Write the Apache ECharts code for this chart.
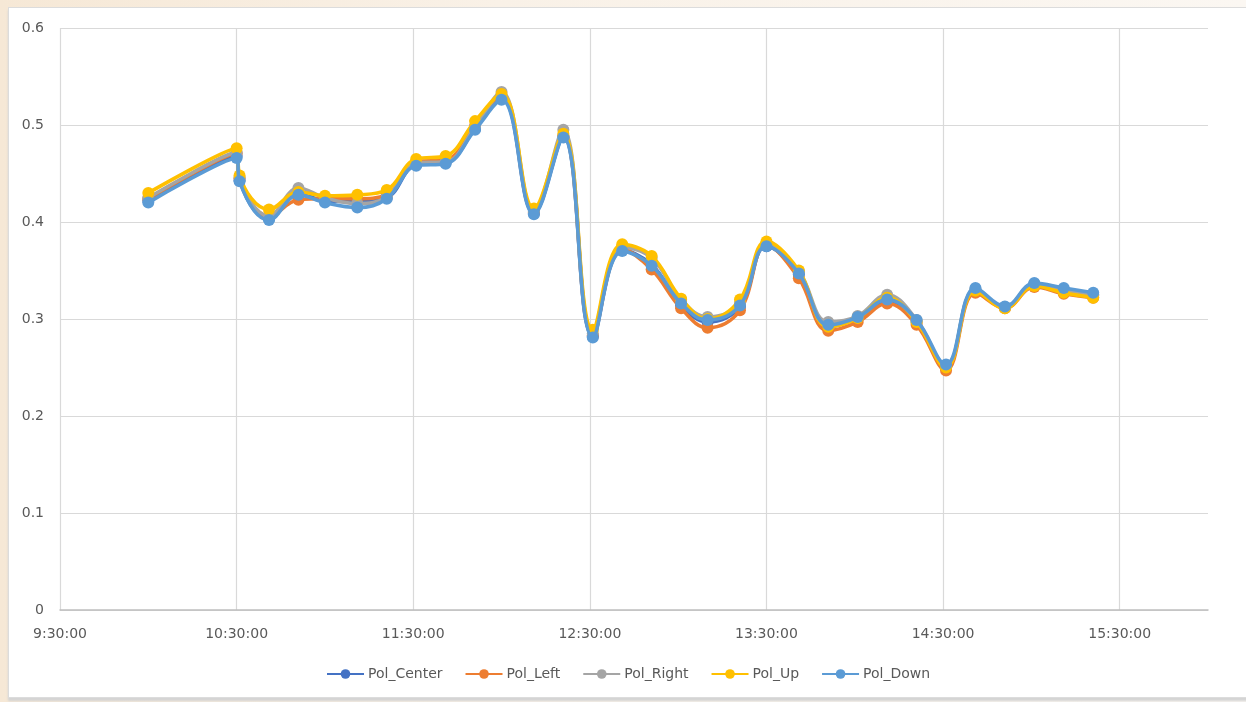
<!DOCTYPE html>
<html>
<head>
<meta charset="utf-8">
<title>Pol readings</title>
<script src="https://cdn.jsdelivr.net/npm/echarts@6/dist/echarts.min.js"></script>
<style>
  html, body { margin: 0; padding: 0; }
  body {
    width: 1246px; height: 702px; overflow: hidden; position: relative;
    background: linear-gradient(90deg, #f6e8d6 0%, #f9f1e7 40%, #fbf7f2 100%);
  }
  #panel {
    position: absolute; left: 8px; top: 7px; width: 1250px; height: 689px;
    background: #ffffff; border: 1px solid #dcdcdc;
    box-shadow: 0 3px 2px #d4d4d4;
  }
  #chart { position: absolute; left: 0; top: 0; width: 1246px; height: 702px; }
</style>
</head>
<body>
<div id="panel"></div>
<div id="chart"></div>
<script>
// Sample times (HH:MM)
const times = ["10:00","10:30","10:31","10:41","10:51","11:00","11:11","11:21","11:31","11:41",
  "11:51","12:00","12:11","12:21","12:31","12:41","12:51","13:01","13:10","13:21",
  "13:30","13:41","13:51","14:01","14:11","14:21","14:31","14:41","14:51","15:01",
  "15:11","15:21"];

const polCenter = [0.422,0.468,0.443,0.403,0.429,0.422,0.421,0.425,0.459,0.461,
  0.496,0.528,0.409,0.488,0.282,0.371,0.356,0.314,0.297,0.313,
  0.375,0.346,0.292,0.301,0.319,0.297,0.250,0.330,0.312,0.336,
  0.330,0.325];
const polLeft = [0.424,0.471,0.445,0.406,0.423,0.424,0.424,0.428,0.462,0.464,
  0.499,0.530,0.410,0.489,0.283,0.372,0.351,0.311,0.291,0.309,
  0.376,0.342,0.288,0.297,0.316,0.294,0.247,0.327,0.311,0.333,
  0.326,0.322];
const polRight = [0.425,0.472,0.446,0.406,0.435,0.425,0.419,0.426,0.461,0.462,
  0.498,0.534,0.411,0.495,0.285,0.374,0.363,0.320,0.302,0.316,
  0.378,0.349,0.297,0.303,0.325,0.299,0.251,0.331,0.312,0.336,
  0.330,0.324];
const polUp = [0.430,0.476,0.448,0.413,0.431,0.427,0.428,0.433,0.465,0.468,
  0.504,0.532,0.414,0.491,0.289,0.377,0.365,0.321,0.300,0.320,
  0.380,0.350,0.292,0.301,0.322,0.297,0.250,0.329,0.311,0.334,
  0.327,0.322];
const polDown = [0.420,0.466,0.442,0.402,0.428,0.420,0.415,0.424,0.458,0.460,
  0.495,0.526,0.408,0.487,0.281,0.370,0.355,0.316,0.299,0.314,
  0.375,0.347,0.294,0.302,0.320,0.299,0.253,0.332,0.313,0.337,
  0.332,0.327];

const seriesNames = ["Pol_Center","Pol_Left","Pol_Right","Pol_Up","Pol_Down"];
const seriesColors = ["#4472C4","#ED7D31","#A5A5A5","#FFC000","#5B9BD5"];
const seriesValues = [polCenter, polLeft, polRight, polUp, polDown];

// x axis runs in minutes counted from the 9:30 start
const START_MIN = 9 * 60 + 30;
function toOffset(hm) {
  const p = hm.split(":");
  return (+p[0]) * 60 + (+p[1]) - START_MIN;
}
function fmtOffset(v) {
  const m = v + START_MIN;
  const h = Math.floor(m / 60);
  const mm = m % 60;
  return h + ":" + String(mm).padStart(2, "0") + ":00";
}

const font = "DejaVu Sans";
const chart = echarts.init(document.getElementById("chart"), null, { renderer: "canvas" });

chart.setOption({
  backgroundColor: "transparent",
  animation: false,
  color: seriesColors,
  grid: { left: 60, right: 38, top: 28, bottom: 92, containLabel: false },
  legend: {
    bottom: 16,
    left: 321,
    itemWidth: 37,
    itemHeight: 12,
    itemGap: 22,
    textStyle: { fontFamily: font, fontSize: 14, color: "#595959", padding: [0, 0, 0, -1] },
    data: seriesNames
  },
  xAxis: {
    type: "value",
    min: 0,
    max: 390,
    interval: 60,
    axisLine: { show: true, lineStyle: { color: "#bfbfbf", width: 1.5 } },
    axisTick: { show: false },
    axisLabel: {
      margin: 17,
      showMaxLabel: false,
      formatter: fmtOffset,
      fontFamily: font,
      fontSize: 14,
      color: "#595959"
    },
    splitLine: { show: true, showMinLine: true, showMaxLine: false, lineStyle: { color: "#d9d9d9", width: 1.2 } }
  },
  yAxis: {
    type: "value",
    min: 0,
    max: 0.6,
    interval: 0.1,
    axisLine: { show: false },
    axisTick: { show: false },
    axisLabel: {
      margin: 16,
      fontFamily: font,
      fontSize: 14,
      color: "#595959",
      formatter: v => String(+v.toFixed(1))
    },
    splitLine: { show: true, lineStyle: { color: "#d9d9d9", width: 1.2 } }
  },
  series: seriesNames.map((name, i) => ({
    name: name,
    type: "line",
    smooth: 0.4,
    symbol: "circle",
    symbolSize: 12,
    showSymbol: true,
    lineStyle: { width: 3.6, color: seriesColors[i] },
    itemStyle: { color: seriesColors[i] },
    z: 2 + i,
    data: times.map((t, k) => [toOffset(t), seriesValues[i][k]])
  }))
});
</script>
</body>
</html>
